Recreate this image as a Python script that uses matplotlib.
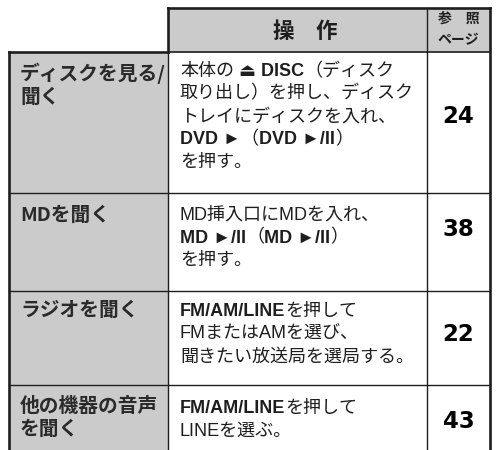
import matplotlib.pyplot as plt
from matplotlib.patches import Rectangle

FONTS = ['Noto Sans CJK JP', 'DejaVu Sans']
LATIN_FONTS = ['Liberation Sans', 'Noto Sans CJK JP', 'DejaVu Sans']
INK = '#1e1e1e'
GRAY = '#cbcbcb'

# table content
HEADER_OP = '操　作'
HEADER_PAGE = ['参　照', 'ページ']
TASKS = [
    ['ディスクを見る/', '聞く'],
    ['MDを聞く'],
    ['ラジオを聞く'],
    ['他の機器の音声', 'を聞く'],
]
PAGES = ['24', '38', '22', '43']
# each line of an operation is a list of (text, bold) runs
STEPS = [
    [
        [('本体の', False), (' ⏏ DISC', True), ('（ディスク', False)],
        [('取り出し）を押し、ディスク', False)],
        [('トレイにディスクを入れ、', False)],
        [('DVD ►', True), ('（', False), ('DVD ►/II', True), ('）', False)],
        [('を押す。', False)],
    ],
    [
        [('MD挿入口にMDを入れ、', False)],
        [('MD ►/II', True), ('（', False), ('MD ►/II', True), ('）', False)],
        [('を押す。', False)],
    ],
    [
        [('FM/AM/LINE', True), ('を押して', False)],
        [('FMまたはAMを選び、', False)],
        [('聞きたい放送局を選局する。', False)],
    ],
    [
        [('FM/AM/LINE', True), ('を押して', False)],
        [('LINEを選ぶ。', False)],
    ],
]

# layout in pixels
COL_X = [9, 168, 427, 490]
ROW_Y = [8, 52, 193, 291, 385, 452]
TASK_BASE = [80, 221, 316, 412]
STEP_BASE = [76, 220, 316, 413]
PAGE_BASE = [123, 236, 341, 428]
PITCH = 22.7


def draw_runs(ax, renderer, x, y, runs, size):
    for text, bold in runs:
        t = ax.text(x, y, text, fontsize=size, family=LATIN_FONTS, color=INK,
                    fontweight='bold' if bold else 'normal',
                    ha='left', va='baseline')
        x += t.get_window_extent(renderer).width


def main():
    fig = plt.figure(figsize=(4.99, 4.5), dpi=100)
    ax = fig.add_axes([0, 0, 1, 1])
    ax.set_xlim(0, 499)
    ax.set_ylim(450, 0)
    ax.axis('off')
    renderer = fig.canvas.get_renderer()

    # gray fills: header and first column
    ax.add_patch(Rectangle((COL_X[1], ROW_Y[0]), COL_X[3] - COL_X[1], ROW_Y[1] - ROW_Y[0],
                           facecolor=GRAY, edgecolor='none', zorder=0))
    ax.add_patch(Rectangle((COL_X[0], ROW_Y[1]), COL_X[1] - COL_X[0], ROW_Y[-1] - ROW_Y[1],
                           facecolor=GRAY, edgecolor='none', zorder=0))

    thin, thick = 1.0, 1.9
    # inner lines
    for y in ROW_Y[2:-1]:
        ax.plot([COL_X[0], COL_X[3]], [y, y], color=INK, lw=thin)
    ax.plot([COL_X[1], COL_X[3]], [ROW_Y[1], ROW_Y[1]], color=INK, lw=1.2)
    for x in COL_X[1:3]:
        ax.plot([x, x], [ROW_Y[1], ROW_Y[-1]], color=INK, lw=thin)
    ax.plot([COL_X[2], COL_X[2]], [ROW_Y[0], ROW_Y[1]], color=INK, lw=thin)
    # outer border
    ax.plot([COL_X[1], COL_X[3]], [ROW_Y[0], ROW_Y[0]], color=INK, lw=thick)
    ax.plot([COL_X[1], COL_X[1]], [ROW_Y[0], ROW_Y[1]], color=INK, lw=thick)
    ax.plot([COL_X[0], COL_X[1]], [ROW_Y[1], ROW_Y[1]], color=INK, lw=thick)
    ax.plot([COL_X[0], COL_X[0]], [ROW_Y[1], ROW_Y[-1]], color=INK, lw=thick)
    ax.plot([COL_X[3], COL_X[3]], [ROW_Y[0], ROW_Y[-1]], color=INK, lw=thick)

    # header
    ax.text(305, 38, HEADER_OP, fontsize=15.5, family=FONTS,
            fontweight='bold', color=INK, ha='center', va='baseline')
    for i, s in enumerate(HEADER_PAGE):
        ax.text((COL_X[2] + COL_X[3]) / 2, 23 + i * 21, s, fontsize=10, family=FONTS,
                fontweight='bold', color=INK, ha='center', va='baseline')

    for r in range(len(TASKS)):
        for i, s in enumerate(TASKS[r]):
            ax.text(20, TASK_BASE[r] + i * PITCH, s, fontsize=14.2, family=FONTS,
                    fontweight='bold', color='#2a2a2a', ha='left', va='baseline')
        for i, runs in enumerate(STEPS[r]):
            draw_runs(ax, renderer, 180, STEP_BASE[r] + i * PITCH, runs, 13.0)
        ax.text((COL_X[2] + COL_X[3]) / 2, PAGE_BASE[r], PAGES[r], fontsize=16.5,
                family='DejaVu Sans', fontweight='bold', color='black',
                ha='center', va='baseline')

    fig.savefig('out.png', dpi=100)


if __name__ == '__main__':
    main()
